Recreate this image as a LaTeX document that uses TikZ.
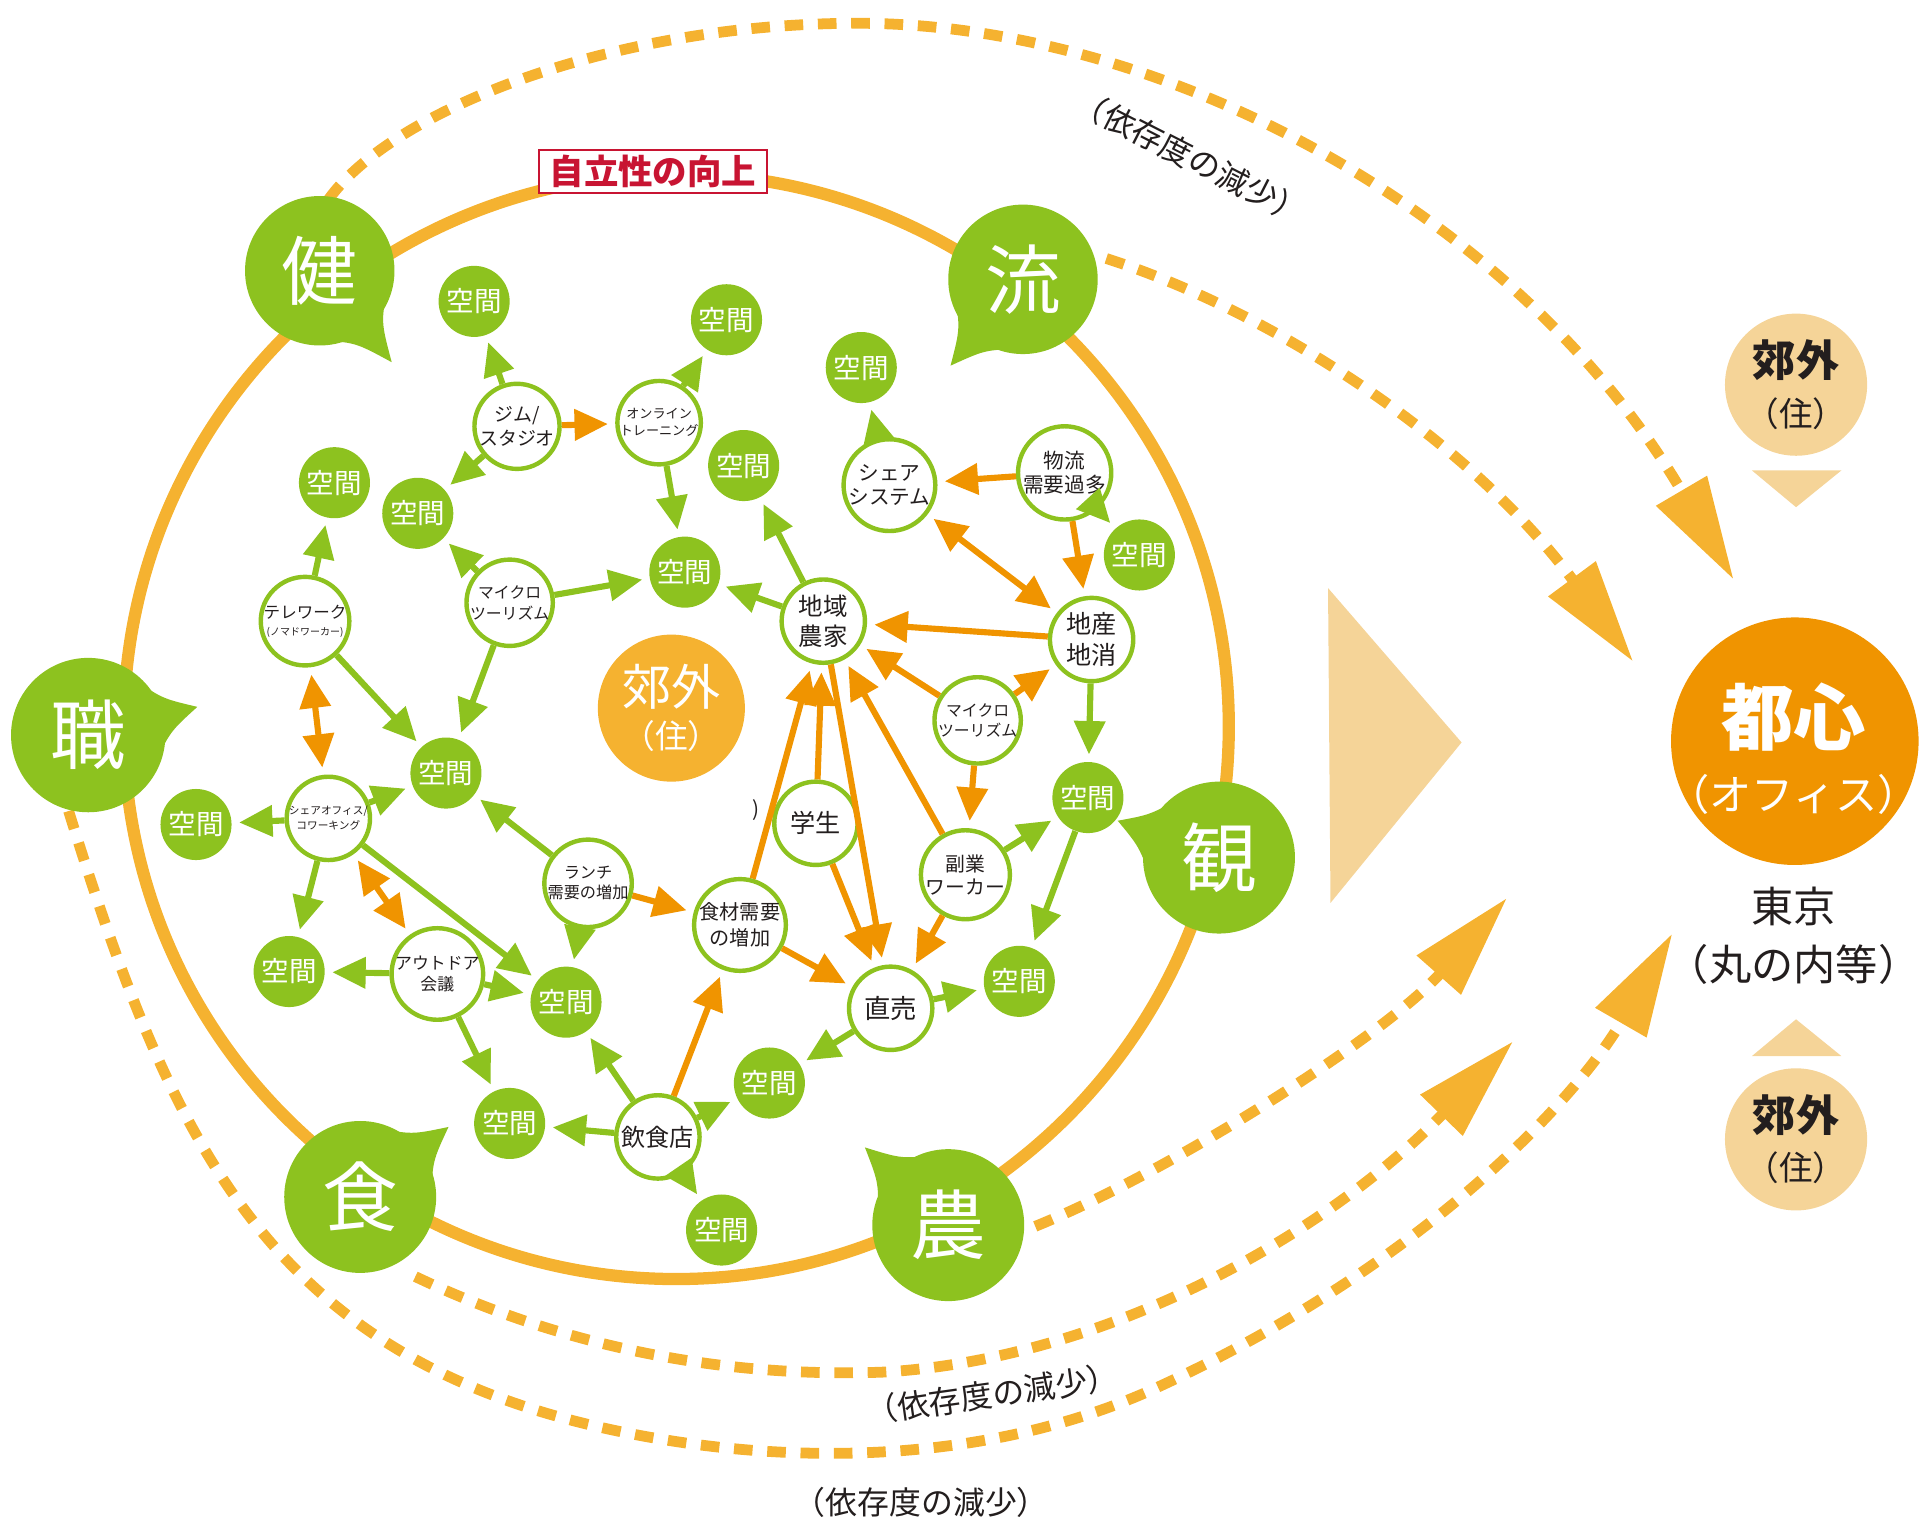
\documentclass[tikz,border=0pt]{standalone}
\usepackage{fontspec}
\setmainfont{Noto Sans CJK JP}
\usetikzlibrary{arrows.meta,calc}

\definecolor{leaf}{RGB}{141,194,31}
\definecolor{gold}{RGB}{245,178,48}
\definecolor{amber}{RGB}{240,148,0}
\definecolor{sand}{RGB}{245,212,152}
\definecolor{crimson}{RGB}{200,20,50}
\definecolor{ink}{RGB}{35,30,30}

\newcommand\fs[2]{\fontsize{#1}{#2}\selectfont}
% speech bubble: name, x, y, radius, tail angle, tail reach, letter
\newcommand\bubble[7]{%
  \fill[leaf] (#2,#3) circle (#4);
  \fill[leaf] ($(#2,#3)+(#5+40:#4-4)$) .. controls ($(#2,#3)+(#5+12:#4+4)$) .. ($(#2,#3)+(#5:#6)$)
    .. controls ($(#2,#3)+(#5-12:#4+4)$) .. ($(#2,#3)+(#5-40:#4-4)$) -- cycle;
  \node[font=\fs{44pt}{44pt}, text=white] (#1) at (#2,#3) {#7};
}

\begin{document}
\begin{tikzpicture}[x=0.025cm, y=-0.025cm,
  hub/.style={circle, draw=leaf, line width=0.09cm, fill=white, minimum size=1.7cm, inner sep=0pt, align=center, text=ink},
  room/.style={circle, fill=leaf, minimum size=1.45cm, inner sep=0pt, text=white, font=\fs{16pt}{16pt}},
  garr/.style={draw=leaf, line width=0.125cm, -{Triangle[length=0.68cm,width=0.62cm]}, shorten >=0.15cm},
  oarr/.style={draw=amber, line width=0.125cm, -{Triangle[length=0.68cm,width=0.62cm]}, shorten >=0.15cm},
  obi/.style={draw=amber, line width=0.125cm, {Triangle[length=0.68cm,width=0.62cm]}-{Triangle[length=0.68cm,width=0.62cm]}, shorten >=0.15cm, shorten <=0.15cm},
  trail/.style={draw=gold, line width=0.22cm, dash pattern=on 0.38cm off 0.3cm, -{Triangle[length=2.1cm,width=1.15cm]}},
  note/.style={text=ink, font=\fs{18.5pt}{20pt}}]
\useasboundingbox (0,0) rectangle (1568,1242);

% ring
\draw[gold, line width=0.25cm] (552,593) circle (451);
\node[draw=crimson, line width=0.05cm, fill=white, text=crimson, font=\bfseries\fs{20pt}{20pt}, minimum width=4.65cm, minimum height=0.88cm, inner sep=0pt] (goal) at (533,140) {自立性の向上};

% dependence trails
\draw[trail] (268,163) .. controls (320,90) and (500,19) .. (700,19) .. controls (950,19) and (1240,175) .. (1415,473);
\draw[trail] (903,211) .. controls (1040,255) and (1200,360) .. (1333,540);
\draw[trail] (845,1001) .. controls (956,956) and (1131,845) .. (1230,733);
\draw[trail] (339,1042) .. controls (450,1095) and (580,1125) .. (720,1120) .. controls (900,1110) and (1080,1010) .. (1235,850);
\draw[trail] (56,662) .. controls (139,929) and (217,1103) .. (490,1165) .. controls (636,1198) and (802,1196) .. (939,1135) .. controls (1166,1032) and (1290,892) .. (1365,762);
\node[note, rotate=-27] (lessA) at (972,128) {（依存度の減少）};
\node[note, rotate=8] (lessB) at (810,1138) {（依存度の減少）};
\node[note] (lessC) at (752,1226) {（依存度の減少）};

% bubbles
\bubble{ken}{261}{221}{61}{51.8}{95}{健}
\bubble{ryu}{835}{228}{61}{130}{92}{流}
\bubble{job}{72}{600}{63}{-14.5}{92}{職}
\bubble{kan}{995}{700}{62}{-160}{88}{観}
\bubble{meal}{294}{977}{62}{-38.4}{92}{食}
\bubble{nou}{774}{1000}{62}{-137}{93}{農}

% suburb in the middle
\node[circle, fill=gold, minimum size=3cm, inner sep=0pt, text=white, align=center, font=\fs{19pt}{25pt}] (home) at (548,578) {{\fs{28.5pt}{30pt}郊外}\\（住）};

% city side
\fill[sand] (1084,480) -- (1193,606) -- (1086,737) -- cycle;
\node[circle, fill=amber, minimum size=5.05cm, inner sep=0pt] (city) at (1465,605) {};
\node[text=white, align=center, font=\fs{24.5pt}{38.4pt}] (citytxt) at (1464,611) {{\bfseries\fs{42pt}{42pt}都心}\\（オフィス）};
\node[text=ink, align=center, font=\fs{24.5pt}{33.4pt}] (tokyo) at (1464,764) {東京\\（丸の内等）};
\node[circle, fill=sand, minimum size=2.9cm, inner sep=0pt, text=ink, align=center, font=\fs{19.5pt}{28.5pt}] (upper) at (1466,314) {{\bfseries\fs{25pt}{25pt}郊外}\\（住）};
\node[circle, fill=sand, minimum size=2.9cm, inner sep=0pt, text=ink, align=center, font=\fs{19.5pt}{28.5pt}] (lower) at (1466,930) {{\bfseries\fs{25pt}{25pt}郊外}\\（住）};
\fill[sand] (1430,384) -- (1503,384) -- (1466,414) -- cycle;
\fill[sand] (1430,862) -- (1503,862) -- (1466,832) -- cycle;

% activities
\node[hub, font=\fs{11pt}{13.5pt}] (gym) at (422,348) {ジム/\\スタジオ};
\node[hub, font=\fs{7.6pt}{10pt}] (online) at (538,345) {オンライン\\トレーニング};
\node[hub, font=\fs{9.2pt}{12pt}] (microA) at (416,492) {マイクロ\\ツーリズム};
\node[hub, font=\fs{9.6pt}{10pt}] (tele) at (249,507) {テレワーク\\{\fs{5.8pt}{6pt}(ノマドワーカー)}};
\node[hub, font=\fs{6.2pt}{8.5pt}] (share) at (268,668) {シェアオフィス/\\コワーキング};
\node[hub, font=\fs{9.4pt}{11.5pt}] (lunch) at (480,721) {ランチ\\需要の増加};
\node[hub, font=\fs{9.8pt}{12pt}] (outdoor) at (357,795) {アウトドア\\会議};
\node[hub, font=\fs{11.7pt}{15pt}] (food) at (604,755) {食材需要\\の増加};
\node[hub, font=\fs{14.6pt}{15pt}] (student) at (666,672) {学生};
\node[hub, font=\fs{14.2pt}{17.8pt}] (farm) at (672,507) {地域\\農家};
\node[hub, font=\fs{12pt}{14.2pt}] (sharesys) at (726,396) {シェア\\システム};
\node[hub, font=\fs{12pt}{14.2pt}] (logi) at (869,386) {物流\\需要過多};
\node[hub, font=\fs{14.6pt}{17.8pt}] (local) at (891,522) {地産\\地消};
\node[hub, font=\fs{9.2pt}{12pt}] (microB) at (798,588) {マイクロ\\ツーリズム};
\node[hub, font=\fs{11.5pt}{13.5pt}] (side) at (788,714) {副業\\ワーカー};
\node[hub, font=\fs{15.3pt}{16pt}] (direct) at (727,823) {直売};
\node[hub, font=\fs{14pt}{15pt}] (diner) at (537,928) {飲食店};
\node[text=ink, font=\fs{12pt}{12pt}] (paren) at (617,661) {)};

% spaces
\node[room] (s1) at (387,246) {空間};
\node[room] (s2) at (593,261) {空間};
\node[room] (s3) at (273,394) {空間};
\node[room] (s4) at (341,419) {空間};
\node[room] (s5) at (559,467) {空間};
\node[room] (s6) at (607,380) {空間};
\node[room] (s7) at (703,300) {空間};
\node[room] (s8) at (930,453) {空間};
\node[room] (s9) at (364,631) {空間};
\node[room] (s10) at (160,673) {空間};
\node[room] (s11) at (236,793) {空間};
\node[room] (s12) at (462,818) {空間};
\node[room] (s13) at (416,917) {空間};
\node[room] (s14) at (628,884) {空間};
\node[room] (s15) at (589,1004) {空間};
\node[room] (s16) at (832,801) {空間};
\node[room] (s17) at (888,651) {空間};

% green links
\draw[garr] (gym) -- (s1);
\draw[garr] (gym) -- (s4);
\draw[garr] (online) -- (s2);
\draw[garr] (online) -- (s5);
\draw[garr] (tele) -- (s3);
\draw[garr] (tele) -- (s9);
\draw[garr] (microA) -- (s4);
\draw[garr] (microA) -- (s5);
\draw[garr] (microA) -- (s9);
\draw[garr] (farm) -- (s5);
\draw[garr] (farm) -- (s6);
\draw[garr] (sharesys) -- (s7);
\draw[garr] (logi) -- (s8);
\draw[garr] (local) -- (s17);
\draw[garr] (side) -- (s17);
\draw[garr] (s17) -- (s16);
\draw[garr] (direct) -- (s16);
\draw[garr] (direct) -- (s14);
\draw[garr] (share) -- (s9);
\draw[garr] (share) -- (s10);
\draw[garr] (share) -- (s11);
\draw[garr] (share) -- (s12);
\draw[garr] (lunch) -- (s9);
\draw[garr] (lunch) -- (s12);
\draw[garr] (outdoor) -- (s11);
\draw[garr] (outdoor) -- (s12);
\draw[garr] (outdoor) -- (s13);
\draw[garr] (diner) -- (s12);
\draw[garr] (diner) -- (s13);
\draw[garr] (diner) -- (s14);
\draw[garr] (diner) -- (s15);

% orange links
\draw[oarr] (gym) -- (online);
\draw[oarr] (lunch) -- (food);
\draw[oarr] (diner) -- (food);
\draw[oarr] (food) -- (farm);
\draw[oarr] (food) -- (direct);
\draw[oarr] (student) -- (farm);
\draw[oarr] (student) -- (direct);
\draw[oarr] (farm) -- (direct);
\draw[oarr] (side) -- (farm);
\draw[oarr] (side) -- (direct);
\draw[oarr] (microB) -- (farm);
\draw[oarr] (microB) -- (local);
\draw[oarr] (microB) -- (side);
\draw[oarr] (local) -- (farm);
\draw[oarr] (logi) -- (sharesys);
\draw[oarr] (logi) -- (local);
\draw[obi] (tele) -- (share);
\draw[obi] (share) -- (outdoor);
\draw[obi] (sharesys) -- (local);
\end{tikzpicture}
\end{document}
